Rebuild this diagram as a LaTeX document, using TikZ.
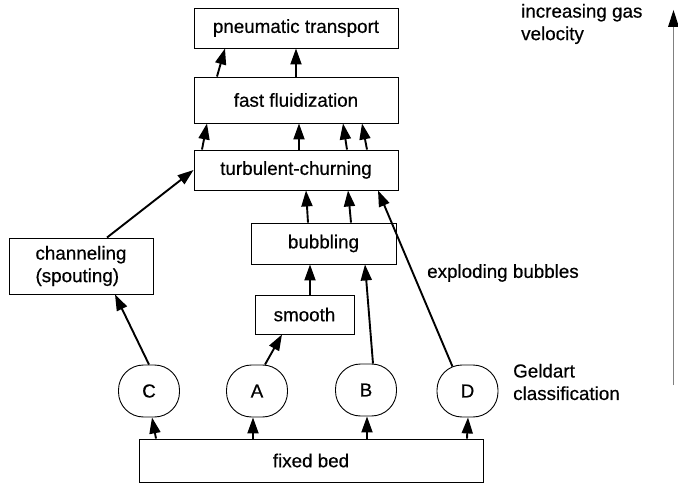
\documentclass[tikz,border=0pt]{standalone}
\usepackage{fontspec}
\setmainfont{Liberation Sans}
\newfontfamily\printfont[FakeBold=0.5]{Liberation Sans}
\usetikzlibrary{arrows.meta}
\begin{document}
\begin{tikzpicture}[x=1pt,y=-1pt,
  every node/.style={font=\printfont\fontsize{18.8}{22.5}\selectfont, inner sep=0pt},
  regime/.style={draw, line width=0.9pt, rectangle},
  geldart/.style={draw, line width=0.9pt, rectangle, rounded corners=25pt,
                  minimum width=61pt, minimum height=52pt},
  arr/.style={line width=1.9pt, -{Triangle[length=16pt,width=11pt]}},
  note/.style={anchor=west, align=left}]
\useasboundingbox (0,0) rectangle (678,484);

% flow regimes
\node[regime, minimum width=204pt, minimum height=40pt] (pneu) at (296,28) {pneumatic transport};
\node[regime, minimum width=204pt, minimum height=46pt] (fast) at (296,100) {fast fluidization};
\node[regime, minimum width=204pt, minimum height=40pt] (turb) at (296,170) {turbulent-churning};
\node[regime, minimum width=145pt, minimum height=41pt] (bub) at (323.5,243.5) {bubbling};
\node[regime, minimum width=99pt, minimum height=39pt] (smooth) at (304.5,314.5) {smooth};
\node[regime, minimum width=144pt, minimum height=56pt, align=left] (chan) at (81,266) {channeling\\(spouting)};
\node[regime, minimum width=344pt, minimum height=43pt] (bed) at (311,460.5) {fixed bed};

% Geldart powder groups
\node[geldart] (C) at (149,391) {C};
\node[geldart] (A) at (257,391) {A};
\node[geldart] (B) at (366,390) {B};
\node[geldart] (D) at (467.5,391) {D};

% side notes
\node[note] (expl) at (427,273) {exploding bubbles};
\node[note] (geld) at (513,382) {Geldart\\classification};
\node[note] (vel) at (521,24) {increasing gas\\velocity};

% transitions
\draw[arr] ([xshift=-79pt]fast.north) -- ([xshift=-71pt]pneu.south);
\draw[arr] (fast.north) -- (pneu.south);
\draw[arr] ([xshift=-94pt]turb.north) -- ([xshift=-89pt]fast.south);
\draw[arr] ([xshift=3pt]turb.north) -- ([xshift=3pt]fast.south);
\draw[arr] ([xshift=51pt]turb.north) -- ([xshift=47pt]fast.south);
\draw[arr] ([xshift=71pt]turb.north) -- ([xshift=66pt]fast.south);
\draw[arr] ([xshift=26pt]chan.north) -- (turb.west);
\draw[arr] ([xshift=-15.5pt]bub.north) -- ([xshift=10pt]turb.south);
\draw[arr] ([xshift=27.5pt]bub.north) -- ([xshift=52pt]turb.south);
\draw[arr] ([xshift=-15pt,yshift=-2pt]D.north) -- ([xshift=82pt]turb.south);
\draw[arr] ([xshift=5.5pt]smooth.north) -- ([xshift=-13.5pt]bub.south);
\draw[arr] ([xshift=7pt]B.north) -- ([xshift=41.5pt]bub.south);
\draw[arr] ([xshift=8pt]A.north) -- ([xshift=-22.5pt]smooth.south);
\draw[arr] (C.north) -- ([xshift=34pt]chan.south);
\draw[arr] ([xshift=-155pt]bed.north) -- ([xshift=3pt]C.south);
\draw[arr] ([xshift=-58pt]bed.north) -- ([xshift=-4pt]A.south);
\draw[arr] ([xshift=56pt]bed.north) -- ([xshift=1pt]B.south);
\draw[arr] ([xshift=156pt]bed.north) -- ([xshift=0.5pt]D.south);

% gas velocity axis
\coordinate (vlo) at (673.5,385);
\coordinate (vhi) at (673.5,10);
\draw[line width=1.2pt, black!50] (vlo) -- ([yshift=-17pt]vhi);
\fill[black] (vhi) -- ++(-5.5,17) -- ++(11,0) -- cycle;
\end{tikzpicture}
\end{document}
